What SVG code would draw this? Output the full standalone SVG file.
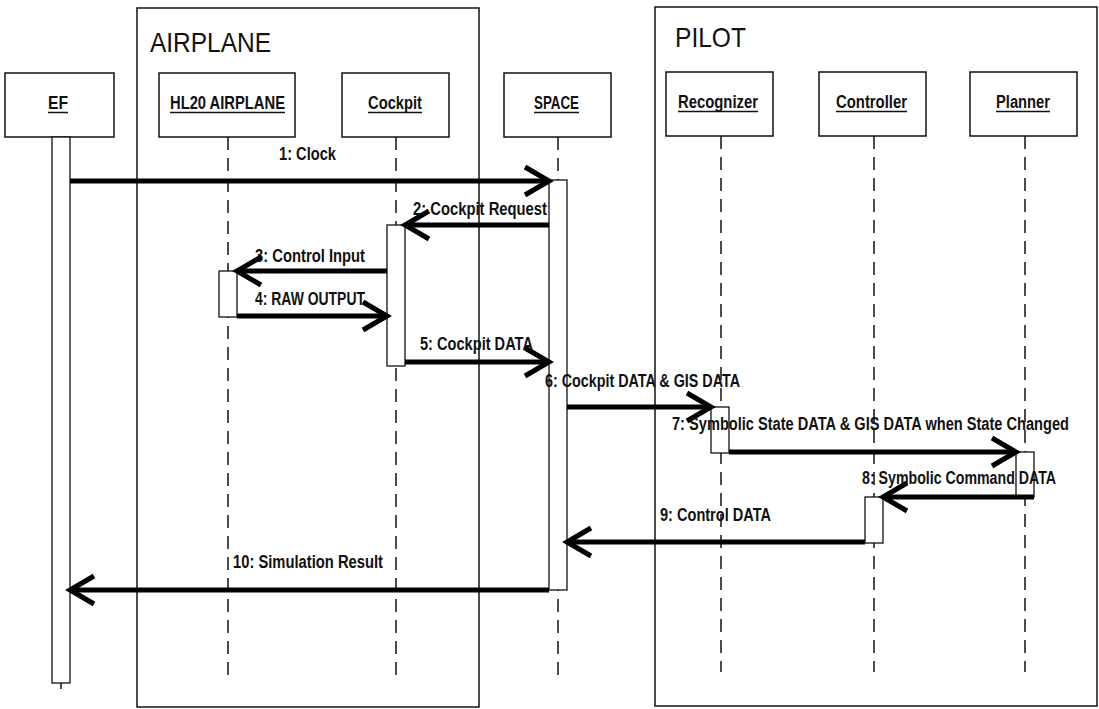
<svg xmlns="http://www.w3.org/2000/svg" width="1099" height="709" viewBox="0 0 1099 709">
<style>
  .frame{fill:none;stroke:#111;stroke-width:1.5}
  .box{fill:#fff;stroke:#111;stroke-width:1.5}
  .bar{fill:#fff;stroke:#111;stroke-width:1.3}
  .life{stroke:#111;stroke-width:1.5;stroke-dasharray:13 8;fill:none}
  .ul{stroke:#111;stroke-width:1.5}
  .title{font-family:"Liberation Sans",Arial,sans-serif;font-size:28px;fill:#111}
  .hdr{font-family:"Liberation Sans",Arial,sans-serif;font-size:18px;font-weight:bold;fill:#111}
  .lbl{font-family:"Liberation Sans",Arial,sans-serif;font-size:18px;font-weight:bold;fill:#111}
  .msg{stroke:#000;stroke-width:5;fill:none}
</style>
<defs>
  <marker id="open" markerUnits="userSpaceOnUse" viewBox="-30 -20 34 40" markerWidth="34" markerHeight="40" refX="0" refY="0" orient="auto" overflow="visible">
    <path d="M-24,-14 L0,0 L-24,14" fill="none" stroke="#000" stroke-width="5"/>
  </marker>
</defs>
<rect width="1099" height="709" fill="#fff"/>

<g id="frame-airplane">
  <rect class="frame" x="137" y="8" width="342" height="699"/>
  <text class="title" x="150" y="52" textLength="121" lengthAdjust="spacingAndGlyphs">AIRPLANE</text>
</g>
<g id="frame-pilot">
  <rect class="frame" x="655" y="7" width="442" height="699"/>
  <text class="title" x="675" y="47" textLength="71" lengthAdjust="spacingAndGlyphs">PILOT</text>
</g>

<g id="node-ef">
  <rect class="box" x="5" y="73" width="109" height="64"/>
  <text class="hdr" x="48" y="109" textLength="20" lengthAdjust="spacingAndGlyphs">EF</text>
  <line class="ul" x1="48" y1="112.5" x2="68" y2="112.5"/>
  <rect class="bar" x="52" y="137" width="18" height="546"/>
  <line class="ul" x1="61" y1="683" x2="61" y2="689"/>
</g>
<g id="node-hl20">
  <rect class="box" x="159" y="73" width="136" height="64"/>
  <text class="hdr" x="170" y="109" textLength="115" lengthAdjust="spacingAndGlyphs">HL20 AIRPLANE</text>
  <line class="ul" x1="170" y1="112.5" x2="285" y2="112.5"/>
  <line class="life" x1="228" y1="137" x2="228" y2="675"/>
  <rect class="bar" x="219" y="271" width="18" height="46"/>
</g>
<g id="node-cockpit">
  <rect class="box" x="342" y="73" width="107" height="64"/>
  <text class="hdr" x="368" y="109" textLength="54" lengthAdjust="spacingAndGlyphs">Cockpit</text>
  <line class="ul" x1="368" y1="112.5" x2="422" y2="112.5"/>
  <line class="life" x1="396" y1="137" x2="396" y2="675"/>
  <rect class="bar" x="387" y="225" width="18" height="141"/>
</g>
<g id="node-space">
  <rect class="box" x="504" y="73" width="107" height="64"/>
  <text class="hdr" x="534" y="109" textLength="45" lengthAdjust="spacingAndGlyphs">SPACE</text>
  <line class="ul" x1="534" y1="112.5" x2="579" y2="112.5"/>
  <line class="life" x1="558" y1="137" x2="558" y2="678"/>
  <rect class="bar" x="549" y="180" width="18" height="410"/>
</g>
<g id="node-recognizer">
  <rect class="box" x="666" y="72" width="107" height="64"/>
  <text class="hdr" x="678" y="108" textLength="80" lengthAdjust="spacingAndGlyphs">Recognizer</text>
  <line class="ul" x1="678" y1="111.5" x2="758" y2="111.5"/>
  <line class="life" x1="721" y1="136" x2="721" y2="672"/>
  <rect class="bar" x="711" y="407" width="18" height="46"/>
</g>
<g id="node-controller">
  <rect class="box" x="819" y="72" width="107" height="64"/>
  <text class="hdr" x="836" y="108" textLength="71" lengthAdjust="spacingAndGlyphs">Controller</text>
  <line class="ul" x1="836" y1="111.5" x2="907" y2="111.5"/>
  <line class="life" x1="874" y1="136" x2="874" y2="672"/>
  <rect class="bar" x="865" y="497" width="18" height="46"/>
</g>
<g id="node-planner">
  <rect class="box" x="970" y="72" width="107" height="64"/>
  <text class="hdr" x="996" y="108" textLength="54" lengthAdjust="spacingAndGlyphs">Planner</text>
  <line class="ul" x1="996" y1="111.5" x2="1050" y2="111.5"/>
  <line class="life" x1="1025" y1="136" x2="1025" y2="672"/>
  <rect class="bar" x="1016" y="452" width="18" height="45"/>
</g>

<g id="connectors">
  <line class="msg" x1="70" y1="181" x2="549" y2="181" marker-end="url(#open)"/>
  <line class="msg" x1="549" y1="225" x2="405" y2="225" marker-end="url(#open)"/>
  <line class="msg" x1="387" y1="271" x2="237" y2="271" marker-end="url(#open)"/>
  <line class="msg" x1="237" y1="316" x2="387" y2="316" marker-end="url(#open)"/>
  <line class="msg" x1="405" y1="362" x2="549" y2="362" marker-end="url(#open)"/>
  <line class="msg" x1="567" y1="407" x2="711" y2="407" marker-end="url(#open)"/>
  <line class="msg" x1="729" y1="452" x2="1016" y2="452" marker-end="url(#open)"/>
  <line class="msg" x1="1034" y1="497" x2="883" y2="497" marker-end="url(#open)"/>
  <line class="msg" x1="865" y1="542" x2="567" y2="542" marker-end="url(#open)"/>
  <line class="msg" x1="549" y1="590" x2="70" y2="590" marker-end="url(#open)"/>

  <text class="lbl" x="279" y="160" textLength="57" lengthAdjust="spacingAndGlyphs">1: Clock</text>
  <text class="lbl" x="413" y="215" textLength="134" lengthAdjust="spacingAndGlyphs">2: Cockpit Request</text>
  <text class="lbl" x="255" y="262" textLength="110" lengthAdjust="spacingAndGlyphs">3: Control Input</text>
  <text class="lbl" x="255" y="305" textLength="110" lengthAdjust="spacingAndGlyphs">4: RAW OUTPUT</text>
  <text class="lbl" x="420" y="350" textLength="113" lengthAdjust="spacingAndGlyphs">5: Cockpit DATA</text>
  <text class="lbl" x="545" y="387" textLength="195" lengthAdjust="spacingAndGlyphs">6: Cockpit DATA &amp; GIS DATA</text>
  <text class="lbl" x="672" y="430" textLength="397" lengthAdjust="spacingAndGlyphs">7: Symbolic State DATA &amp; GIS DATA when State Changed</text>
  <text class="lbl" x="862" y="484" textLength="194" lengthAdjust="spacingAndGlyphs">8: Symbolic Command DATA</text>
  <text class="lbl" x="660" y="521" textLength="111" lengthAdjust="spacingAndGlyphs">9: Control DATA</text>
  <text class="lbl" x="233" y="568" textLength="150" lengthAdjust="spacingAndGlyphs">10: Simulation Result</text>
</g>
</svg>
